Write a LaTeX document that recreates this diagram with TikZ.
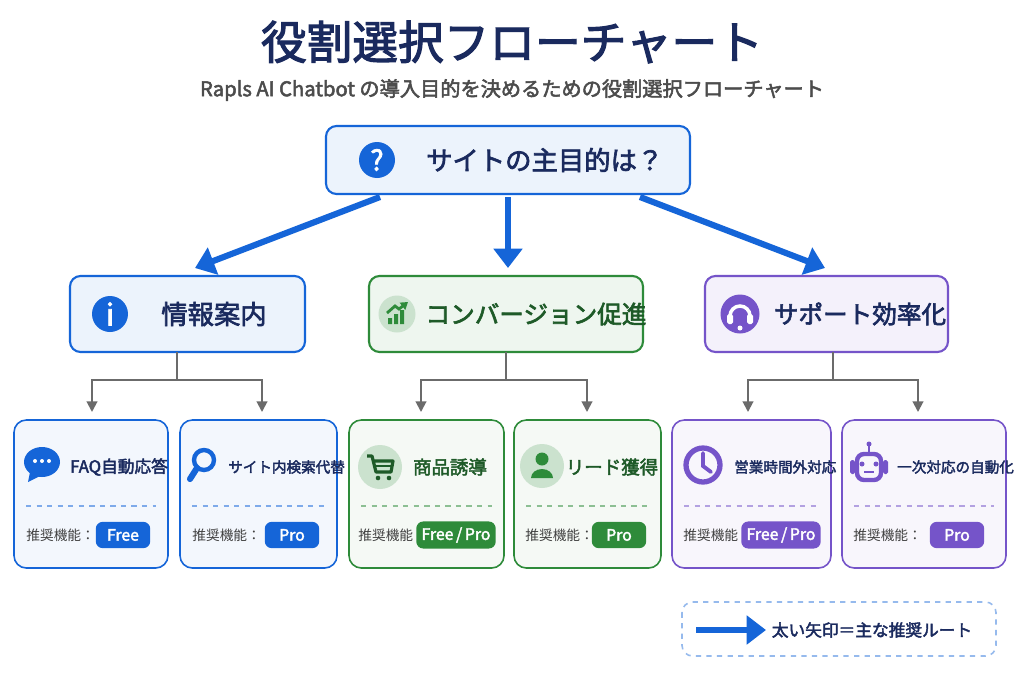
\documentclass[tikz,border=0pt]{standalone}
\usepackage{fontspec}
\setmainfont{Noto Sans CJK JP}[AutoFakeBold=2.5]
\usetikzlibrary{arrows.meta,positioning}
\definecolor{navy}{HTML}{1A2A5E}
\definecolor{bblue}{HTML}{1565D8}
\definecolor{ggreen}{HTML}{2E8B3A}
\definecolor{gdark}{HTML}{1E5A28}
\definecolor{ppurple}{HTML}{7554C9}
\definecolor{grayline}{HTML}{6B6B6B}
\newcommand{\fp}{Free\,/\,Pro}

\tikzset{
  box/.style={draw=#1,fill=#1!8,rounded corners=6pt,line width=1.2pt},
  card/.style={draw=#1,fill=#1!5,rounded corners=7pt,line width=0.9pt},
  badge/.style={fill=#1,rounded corners=4pt,text=white,font=\bfseries\fontsize{9}{9}\selectfont,minimum height=15pt,minimum width=31pt,inner xsep=3pt},
  mainarrow/.style={bblue,line width=3.5pt,-{Triangle[length=11pt,width=16pt]}},
  branch/.style={grayline,line width=1.1pt,-{Triangle[length=6pt,width=6pt]}},
  ctitle/.style={font=\bfseries\fontsize{15}{15}\selectfont},
  cardtitle/.style={font=\bfseries\fontsize{9.5}{9.5}\selectfont},
  smalltitle/.style={font=\bfseries\fontsize{8.3}{8.3}\selectfont},
  rec/.style={text=black!75,font=\fontsize{7.8}{7.8}\selectfont,inner xsep=0pt}
}

\begin{document}
\begin{tikzpicture}[x=0.02cm,y=-0.02cm]
		\useasboundingbox (0,0) rectangle (1024,680);
		\fill[white] (0,0) rectangle (1024,680);
		
		% Titel
		\node[navy,font=\bfseries\fontsize{26}{26}\selectfont] (title) at (512,42) {役割選択フローチャート};
		\node[black!70,font=\bfseries\fontsize{11.5}{11.5}\selectfont] (sub) at (512,90) {Rapls AI Chatbot の導入目的を決めるための役割選択フローチャート};
		
		% Frage
		\draw[box=bblue] (326,126) rectangle (690,194);
		\node[circle,fill=bblue,text=white,inner sep=0pt,minimum size=0.72cm,font=\bfseries\fontsize{16}{16}\selectfont] (qicon) at (377,160) {?};
		\node[navy,ctitle,right=14pt of qicon] (q) {サイトの主目的は？};
		
		% Kategorien
		\draw[box=bblue] (70,276) rectangle (305,352);
		\node[circle,fill=bblue,text=white,inner sep=0pt,minimum size=0.72cm,font=\bfseries\fontsize{17}{17}\selectfont] (iicon) at (110,314) {i};
		\node[navy,ctitle] (info) at (214,314) {情報案内};
		
		\draw[box=ggreen] (369,276) rectangle (643,352);
		\node[circle,fill=ggreen!25,inner sep=0pt,minimum size=0.74cm] (cicon) at (397,314) {};
		\fill[ggreen] (388,324) rectangle (392,318) (394,324) rectangle (398,314) (400,324) rectangle (404,310);
		\draw[ggreen,line width=1.6pt,-{Triangle[length=4pt,width=5pt]}] (387,313) -- (395,306) -- (399,309) -- (408,302);
		\node[gdark,ctitle,font=\bfseries\fontsize{14}{14}\selectfont] (conv) at (536,314) {コンバージョン促進};
		
		\draw[box=ppurple] (705,276) rectangle (948,352);
		\node[circle,fill=ppurple,inner sep=0pt,minimum size=0.78cm] (sicon) at (740,314) {};
		\draw[white,line width=2pt] (730,316) arc (180:360:10);
		\fill[white,rounded corners=1pt] (727,314) rectangle (733,324) (747,314) rectangle (753,324);
		\fill[white] (740,328) circle (2.5);
		\node[navy,ctitle,font=\bfseries\fontsize{14}{14}\selectfont] (supp) at (860,314) {サポート効率化};
		
		% Hauptpfeile
		\draw[mainarrow] (380,197) -- (195,268);
		\draw[mainarrow] (508,197) -- (508,268);
		\draw[mainarrow] (640,197) -- (825,268);
		
		% Karten
		\foreach \xa/\xb/\col in {14/168/bblue,180/337/bblue,349/504/ggreen,514/661/ggreen,672/831/ppurple,842/1006/ppurple}{
			\draw[card=\col] (\xa,420) rectangle (\xb,568);
			\draw[\col!55,dashed,line width=0.8pt] (\xa+12,506) -- (\xb-12,506);
		}
		\foreach \x/\n in {92/k1,262/k2,421/k3,587/k4,748/k5,918/k6}
		\coordinate (\n) at (\x,412);
		
		% Verzweigungen
		\foreach \a/\b/\xc in {k1/k2/177,k3/k4/506,k5/k6/833}{
			\draw[grayline,line width=1.1pt] (\xc,352) -- (\xc,380);
			\draw[branch] (\xc,380) -| (\a);
			\draw[branch] (\xc,380) -| (\b);
		}
		
		% Karte 1
		\fill[bblue] (42,462) ellipse (18 and 15);
		\fill[bblue] (30,472) -- (28,482) -- (40,476) -- cycle;
		\foreach \d in {-7,0,7} \fill[white] (42+\d,461) circle (2);
		\node[navy,cardtitle,anchor=west] (t1) at (64,467) {FAQ自動応答};
		% Karte 2
		\draw[bblue,line width=2.5pt] (204,460) circle (10);
		\draw[bblue,line width=3.5pt,line cap=round] (197,468) -- (190,479);
		\node[navy,smalltitle,anchor=west] (t2) at (222,467) {サイト内検索代替};
		% Karte 3
		\fill[ggreen!25] (380,467) circle (22);
		\draw[gdark,line width=1.8pt,line join=round] (367,456) -- (372,456) -- (376,472) -- (391,472) -- (393,461) -- (374,461);
		\draw[gdark,line width=1.2pt] (376,466) -- (392,466);
		\fill[gdark] (378,478) circle (2.3) (389,478) circle (2.3);
		\node[gdark,cardtitle,font=\bfseries\fontsize{10.5}{10.5}\selectfont] (t3) at (450,467) {商品誘導};
		% Karte 4
		\fill[ggreen!25] (542,466) circle (22);
		\fill[ggreen] (542,459) circle (6.5);
		\fill[ggreen] (531,478) arc (180:360:11 and 9) -- cycle;
		\node[gdark,cardtitle,font=\bfseries\fontsize{10.5}{10.5}\selectfont] (t4) at (612,467) {リード獲得};
		% Karte 5
		\draw[ppurple,line width=3pt] (703,465) circle (17);
		\draw[ppurple,line width=2.2pt,line cap=round] (703,453) -- (703,466) -- (711,472);
		\node[navy,smalltitle,anchor=west] (t5) at (728,467) {営業時間外対応};
		% Karte 6
		\draw[ppurple,line width=2.5pt,rounded corners=4pt] (857,454) rectangle (881,480);
		\draw[ppurple,line width=1.5pt] (869,454) -- (869,446);
		\fill[ppurple] (869,444) circle (2.5) (862,464) circle (2.5) (876,464) circle (2.5);
		\draw[ppurple,line width=1.5pt] (864,472) -- (874,472);
		\fill[ppurple,rounded corners=1pt] (850,460) rectangle (855,474) (883,460) rectangle (888,474);
		\node[navy,smalltitle,anchor=west] (t6) at (891,467) {一次対応の自動化};
		
		% Empfehlungen
		\foreach \x/\xb/\col/\lab/\n in {26/123/bblue/Free/b1,192/292/bblue/Pro/b2,358/456/ggreen/\fp/b3,525/619/ggreen/Pro/b4,683/781/ppurple/\fp/b5,853/957/ppurple/Pro/b6}{
			\node[rec,anchor=west] (r\n) at (\x,535) {推奨機能：};
			\node[badge=\col] (\n) at (\xb,535) {\lab};
		}
		
		% Legende
		\draw[bblue!45,dashed,rounded corners=6pt,line width=0.9pt] (682,602) rectangle (996,656);
		\coordinate (la) at (696,630);
		\coordinate (lb) at (766,630);
		\node[navy,font=\bfseries\fontsize{9.5}{9.5}\selectfont] (leg) at (872,630) {太い矢印＝主な推奨ルート};
		\draw[mainarrow] (la) -- (lb);
	\end{tikzpicture}
\end{document}
